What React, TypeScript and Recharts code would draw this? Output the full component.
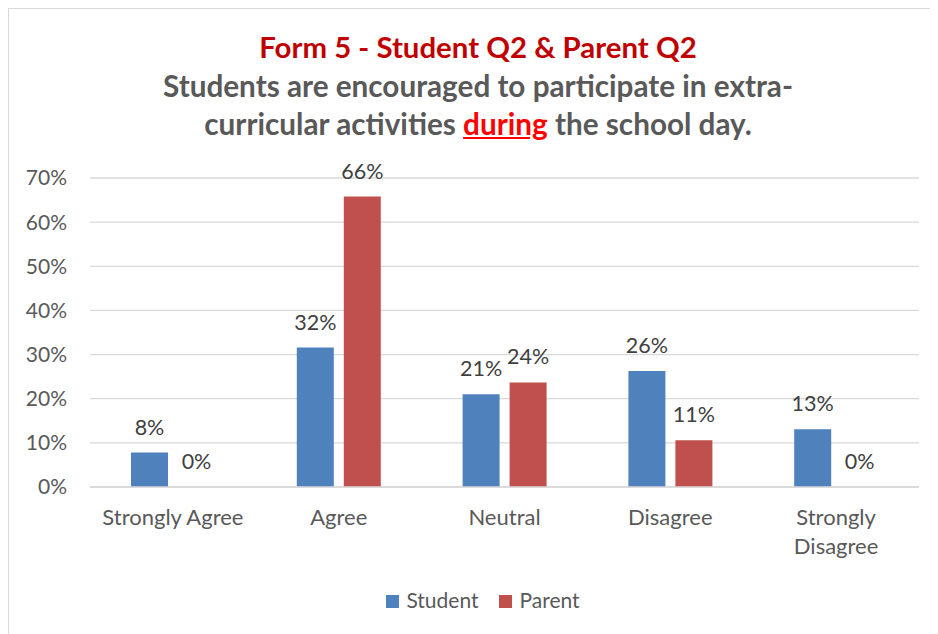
import React from 'react';
import { BarChart, Bar, XAxis, YAxis, CartesianGrid, Legend, LabelList } from 'recharts';

const categories = ['Strongly Agree', 'Agree', 'Neutral', 'Disagree', 'Strongly Disagree'];
const studentValues = [7.8, 31.6, 21.0, 26.3, 13.1];
const parentValues = [0, 65.8, 23.7, 10.6, 0];
const yTicks = [0, 10, 20, 30, 40, 50, 60, 70];
const seriesNames = ['Student', 'Parent'];
const seriesColors = ['#4F81BD', '#C0504D'];

const data = categories.map((c, i) => ({
  category: c,
  Student: studentValues[i],
  Parent: parentValues[i],
}));

const FONT = 'Lato, "Open Sans", sans-serif';

const XTick = (props: any) => {
  const { x, y, payload } = props;
  const label = String(payload.value);
  const lines = label.length > 15 ? label.split(' ') : [label];
  return (
    <text x={x} y={y} textAnchor="middle" fill="#595959" fontSize={22} fontFamily={FONT}>
      {lines.map((l, i) => (
        <tspan key={i} x={x} dy={i === 0 ? '0.71em' : 29.5}>
          {l}
        </tspan>
      ))}
    </text>
  );
};

const LegendContent = (props: any) => {
  const payload = [...(props.payload || [])].sort(
    (a: any, b: any) => seriesNames.indexOf(a.value) - seriesNames.indexOf(b.value)
  );
  return (
    <div style={{ display: 'flex', justifyContent: 'center', alignItems: 'center', fontFamily: FONT, fontSize: 21, lineHeight: '24px', color: '#595959' }}>
      {payload.map((p: any, i: number) => (
        <div key={i} style={{ display: 'flex', alignItems: 'center', marginLeft: i === 0 ? 0 : 21 }}>
          <span style={{ display: 'inline-block', width: 13, height: 13, background: p.color, marginRight: 7, marginTop: 2 }} />
          <span>{p.value}</span>
        </div>
      ))}
    </div>
  );
};

const fmt = (v: any) => `${Math.round(Number(v))}%`;

export default function App() {
  return (
    <div style={{ position: 'relative', width: 930, height: 626 }}>
      <div style={{ position: 'absolute', left: 0, top: 0, width: 930, height: 626, borderTop: '1px solid #d9d9d9', borderLeft: '1px solid #d9d9d9', boxSizing: 'border-box' }} />
      <div style={{ position: 'absolute', left: 0, top: 21.3, width: 940, textAlign: 'center', fontFamily: FONT, fontWeight: 700, fontSize: 29.4, lineHeight: '35.3px', color: '#C00000', whiteSpace: 'nowrap' }}>
        Form 5 - Student Q2 &amp; Parent Q2
      </div>
      <div style={{ position: 'absolute', left: 0, top: 59, width: 940, textAlign: 'center', fontFamily: FONT, fontWeight: 700, fontSize: 29.7, lineHeight: '37.8px', color: '#595959', whiteSpace: 'nowrap' }}>
        Students are encouraged to participate in extra-
        <br />
        curricular activities <span style={{ color: '#FF0000', textDecoration: 'underline' }}>during</span> the school day.
      </div>
      <div style={{ position: 'absolute', left: 0, top: 0 }}>
        <BarChart width={930} height={626} data={data} margin={{ top: 170, right: 19, left: 22, bottom: 117 }} barSize={37} barGap={10}>
          <CartesianGrid vertical={false} stroke="#d9d9d9" strokeWidth={1.3} />
          <XAxis
            dataKey="category"
            tick={<XTick />}
            tickLine={false}
            tickSize={0}
            tickMargin={22.3}
            axisLine={{ stroke: '#d9d9d9', strokeWidth: 1.3 }}
            interval={0}
            height={30}
          />
          <YAxis
            domain={[0, 70]}
            ticks={yTicks}
            tickFormatter={(v: number) => `${v}%`}
            tick={{ fill: '#595959', fontSize: 21, fontFamily: FONT }}
            tickLine={false}
            tickSize={0}
            tickMargin={23}
            axisLine={false}
            width={60}
            interval={0}
          />
          <Legend
            layout="horizontal"
            verticalAlign="middle"
            align="center"
            content={<LegendContent />}
            wrapperStyle={{ top: 580, left: 10, width: 930, height: 24 }}
          />
          <Bar dataKey={seriesNames[0]} name={seriesNames[0]} fill={seriesColors[0]} minPointSize={0.01} isAnimationActive={false}>
            <LabelList dataKey={seriesNames[0]} position="top" offset={18} formatter={fmt} fill="#404040" fontSize={21.5} fontFamily={FONT} />
          </Bar>
          <Bar dataKey={seriesNames[1]} name={seriesNames[1]} fill={seriesColors[1]} minPointSize={0.01} isAnimationActive={false}>
            <LabelList dataKey={seriesNames[1]} position="top" offset={18} formatter={fmt} fill="#404040" fontSize={21.5} fontFamily={FONT} />
          </Bar>
        </BarChart>
      </div>
    </div>
  );
}
